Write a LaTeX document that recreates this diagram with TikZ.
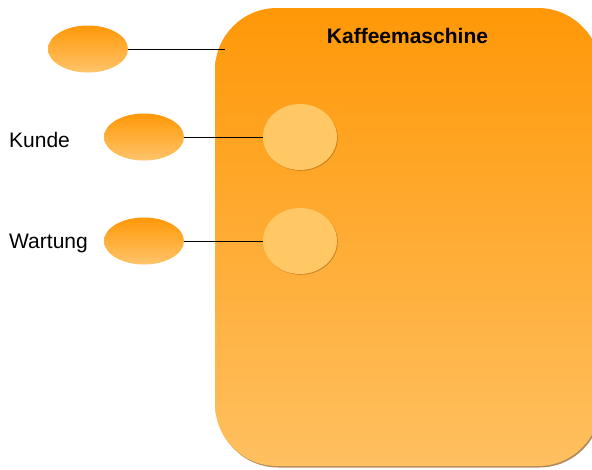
\documentclass[tikz,border=0pt]{standalone}
\usepackage{fontspec}
\setmainfont{Liberation Sans}
\usetikzlibrary{shapes.geometric,shadows}
\definecolor{orangeTop}{RGB}{255,152,8}
\definecolor{orangeBot}{RGB}{255,192,96}
\definecolor{ellBot}{RGB}{255,196,106}
\definecolor{caseFill}{RGB}{255,200,100}
\definecolor{shadowBrown}{RGB}{150,90,20}
\tikzset{
  system/.style={rectangle, rounded corners=62pt, minimum width=385pt,
    minimum height=458pt, top color=orangeTop, bottom color=orangeBot,
    draw=none,
    drop shadow={shadow xshift=1.2pt, shadow yshift=-1.5pt,
      fill=shadowBrown, opacity=0.7}},
  actor/.style={ellipse, minimum width=80pt, minimum height=47pt,
    inner sep=0pt, top color=orangeTop, bottom color=ellBot, draw=none},
  usecase/.style={ellipse, minimum width=74pt, minimum height=66pt,
    inner sep=0pt, fill=caseFill, draw=none,
    drop shadow={shadow xshift=0.8pt, shadow yshift=-0.8pt,
      fill=shadowBrown, opacity=0.5}},
  label/.style={font=\fontsize{21}{25}\selectfont, inner sep=0pt},
  link/.style={draw=black, line width=0.8pt}
}
\begin{document}
\begin{tikzpicture}[x=1pt, y=-1pt]
  \useasboundingbox (0,0) rectangle (592,469);
  % system boundary
  \node[system] (machine) at (407.5,237) {};
  \node[label, font=\fontsize{21}{25}\selectfont\bfseries, anchor=base]
    (title) at (407.5,43) {Kaffeemaschine};
  % actors
  \node[actor] (a1) at (88,49) {};
  \node[actor] (a2) at (144,137) {};
  \node[actor] (a3) at (144,241) {};
  \node[label, anchor=base west] (kunde) at (9,147) {Kunde};
  \node[label, anchor=base west] (wartung) at (9,248) {Wartung};
  % use cases
  \node[usecase] (u1) at (300,137) {};
  \node[usecase] (u2) at (300,241) {};
  % associations
  \coordinate (edge) at (225,49);
  \draw[link] (a1.east) -- (edge);
  \draw[link] (a2.east) -- (u1.west);
  \draw[link] (a3.east) -- (u2.west);
\end{tikzpicture}
\end{document}
